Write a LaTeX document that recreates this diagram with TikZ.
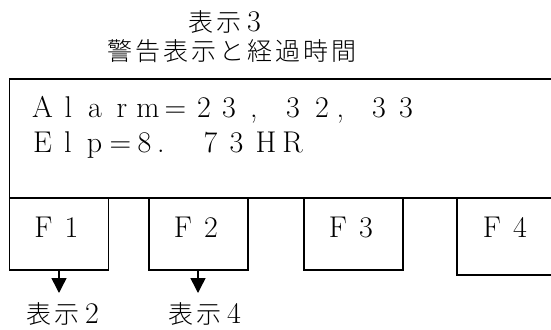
\documentclass[tikz,border=0pt]{standalone}
\usepackage{fontspec}
\IfFontExistsTF{Noto Sans CJK JP Light}{\newfontfamily\cjk{Noto Sans CJK JP Light}}{\newfontfamily\cjk{Noto Sans CJK JP}}
\usetikzlibrary{arrows.meta}
\newcommand\cel[1]{\makebox[28pt]{#1}}
\newcommand\dcel[1]{\hspace*{-3pt}\makebox[28pt]{#1}}
\newcommand\gl[2]{\hspace*{#1pt}\makebox[0pt]{#2}}
\newcommand\jc[1]{\makebox[28pt]{{\fontsize{25}{25}\cjk #1}}}
\tikzset{
  txt/.style={inner sep=0pt, outer sep=0pt, anchor=base west, font=\fontsize{30}{32}\selectfont},
  screenbox/.style={draw, line width=1.8pt, anchor=north west, inner sep=0pt, minimum width=570pt, minimum height=119pt},
  fbox/.style={draw, line width=1.5pt, anchor=north west, inner sep=0pt, minimum width=99pt, minimum height=72pt},
  arr/.style={line width=1.5pt, -{Triangle[width=15pt,length=15pt]}},
}
\begin{document}
\begin{tikzpicture}[x=1pt,y=-1pt]
\path[use as bounding box] (0,0) rectangle (551,329);
\clip (0,0) rectangle (551,329);
% titles
\node[txt] (title) at (187,32) {\jc{表}\jc{示}\dcel{3}};
\node[txt] (subtitle) at (106,60) {\jc{警}\jc{告}\jc{表}\jc{示}\jc{と}\jc{経}\jc{過}\jc{時}\jc{間}};
% main screen
\node[screenbox] (screen) at (8.5,78) {};
\node[txt] (line1) at (29,117) {\gl{13.5}{A}\gl{26}{l}\gl{26.5}{a}\gl{27}{r}\gl{26}{m}\gl{27.5}{=}\gl{28.5}{2}\gl{25}{3}\gl{25}{,}\gl{39}{3}\gl{29}{2}\gl{18.5}{,}\gl{38.5}{3}\gl{27}{3}};
\node[txt] (line2) at (29,152) {\gl{13.5}{E}\gl{25.5}{l}\gl{26.5}{p}\gl{26}{=}\gl{24}{8}\gl{16.5}{.}\gl{49.5}{7}\gl{26}{3}\gl{29.5}{H}\gl{26.5}{R}};
% function keys
\node[fbox] (f1) at (8.5,197) {};
\node[fbox] (f2) at (148,197) {};
\node[fbox] (f3) at (303,197) {};
\node[fbox, minimum width=130pt, minimum height=77pt] (f4) at (456,197) {};
\node[txt] (f1t) at (29.5,237) {\cel{F}\cel{1}};
\node[txt] (f2t) at (169,237) {\cel{F}\cel{2}};
\node[txt] (f3t) at (324,237) {\cel{F}\cel{3}};
\node[txt] (f4t) at (478,237) {\cel{F}\cel{4}};
% arrows and targets
\coordinate (t1) at (59,293);
\coordinate (t2) at (198,293);
\draw[arr] (f1.south -| t1) -- (t1);
\draw[arr] (f2.south -| t2) -- (t2);
\node[txt] (d2) at (25,323) {\jc{表}\jc{示}\dcel{2}};
\node[txt] (d4) at (167,323) {\jc{表}\jc{示}\dcel{4}};
\end{tikzpicture}
\end{document}
